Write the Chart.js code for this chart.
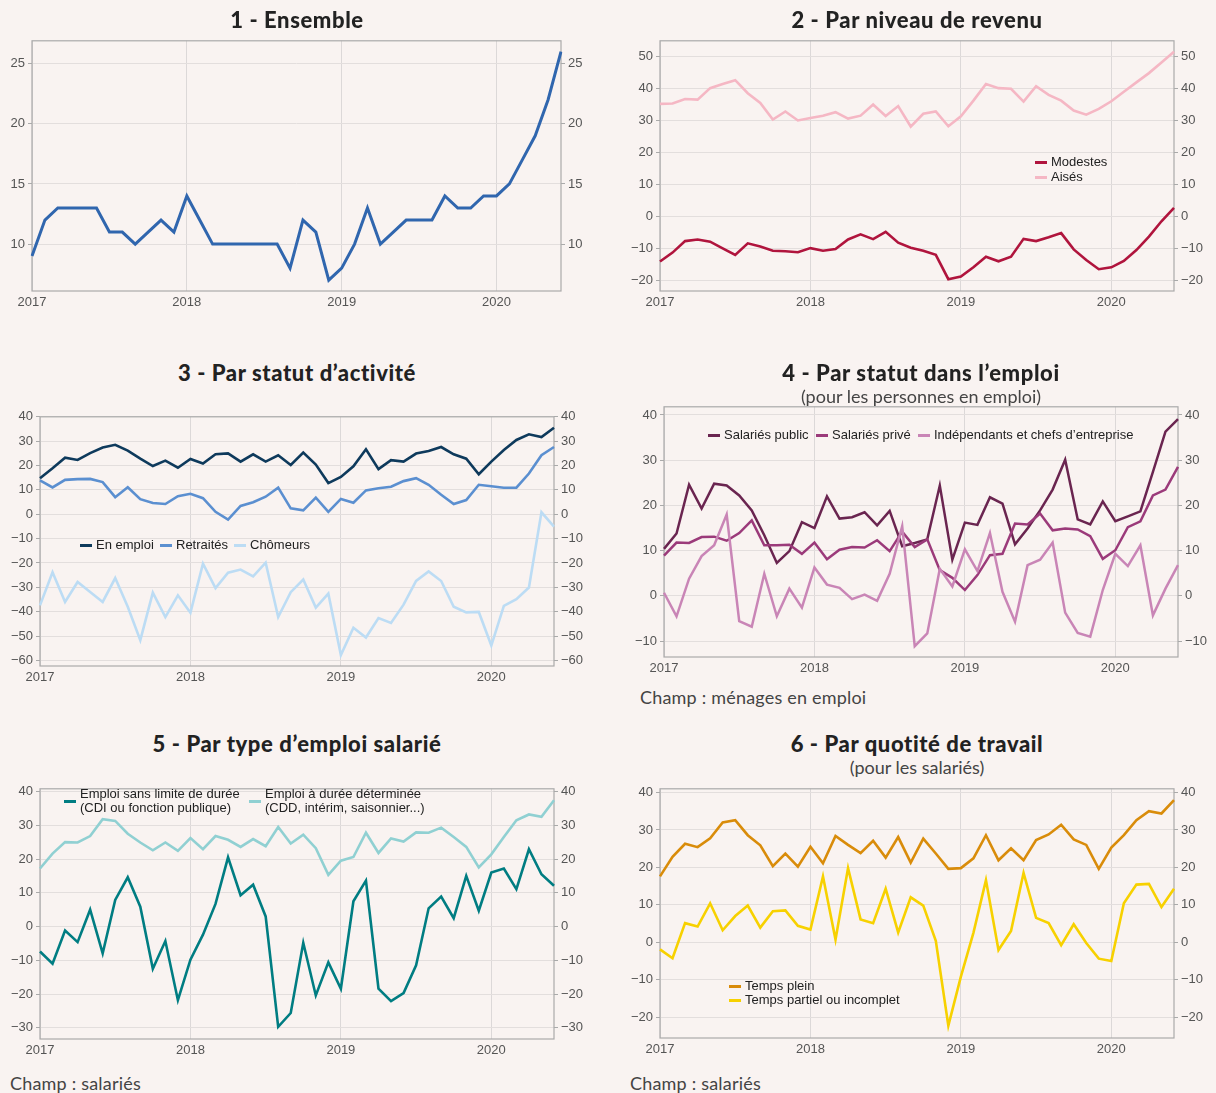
<!DOCTYPE html>
<html lang="fr">
<head>
<meta charset="utf-8">
<script src="https://cdn.jsdelivr.net/npm/chart.js@4.4.1/dist/chart.umd.min.js"></script>
<style>
  html, body { margin:0; padding:0; }
  body { width:1216px; height:1093px; background:#f9f3f1; position:relative; overflow:hidden; font-family:"Liberation Sans", Arial, sans-serif; }
  canvas { position:absolute; }
  .title { position:absolute; width:640px; text-align:center; font-family:Lato, "Open Sans", sans-serif; font-weight:900; font-size:22px; letter-spacing:0.6px; line-height:24px; color:#222; white-space:nowrap; }
  .sub { position:absolute; width:640px; text-align:center; font-family:Lato, "Open Sans", sans-serif; font-size:18px; line-height:20px; color:#444; white-space:nowrap; }
  .note { position:absolute; font-family:Lato, "Open Sans", sans-serif; font-size:18px; letter-spacing:0.2px; line-height:22px; color:#444; white-space:nowrap; }
  .leg { position:absolute; display:flex; align-items:center; font-size:13px; line-height:14px; color:#222; white-space:nowrap; }
  .leg i { display:inline-block; width:12px; height:3px; margin-right:4px; }
</style>
</head>
<body>
<script>
// ---------- data ----------
const months = ['2017-01','2017-02','2017-03','2017-04','2017-05','2017-06','2017-07','2017-08','2017-09','2017-10','2017-11','2017-12',
                '2018-01','2018-02','2018-03','2018-04','2018-05','2018-06','2018-07','2018-08','2018-09','2018-10','2018-11','2018-12',
                '2019-01','2019-02','2019-03','2019-04','2019-05','2019-06','2019-07','2019-08','2019-09','2019-10','2019-11','2019-12',
                '2020-01','2020-02','2020-03','2020-04','2020-05','2020-06'];
const yearLabels = ['2017','2018','2019','2020'];

const ticks1 = [10,15,20,25];
const ticks2 = [-20,-10,0,10,20,30,40,50];
const ticks3 = [-60,-50,-40,-30,-20,-10,0,10,20,30,40];
const ticks4 = [-10,0,10,20,30,40];
const ticks5 = [-30,-20,-10,0,10,20,30,40];
const ticks6 = [-20,-10,0,10,20,30,40];

const ensemble = [9,12,13,13,13,13,11,11,10,11,12,11,14,12,10,10,10,10,10,10,8,12,11,7,8,10,13,10,11,12,12,12,14,13,13,14,14,15,17,19,22,26];

const modestes = [-14.1,-11.3,-7.7,-7.2,-7.9,-10.0,-12.0,-8.4,-9.4,-10.7,-10.9,-11.2,-9.9,-10.7,-10.2,-7.2,-5.6,-7.1,-4.8,-8.2,-9.8,-10.7,-12.0,-19.6,-18.8,-15.9,-12.6,-14.0,-12.6,-7.0,-7.7,-6.5,-5.2,-10.3,-13.6,-16.5,-15.9,-13.9,-10.5,-6.3,-1.5,2.7];
const aises = [35.2,35.3,36.7,36.5,40.1,41.4,42.6,38.5,35.5,30.3,32.8,30.0,30.8,31.5,32.6,30.6,31.5,35.0,31.4,34.5,28.1,32.1,32.8,28.2,31.3,36.2,41.4,40.1,39.9,35.9,40.7,38.0,36.2,33.1,31.8,33.6,36.0,39.0,41.9,44.8,48.1,51.5];

const enEmploi = [14.8,18.9,23.2,22.3,25.1,27.4,28.5,26.1,22.8,19.8,22.0,19.1,22.7,20.8,24.6,25.0,21.6,24.6,21.6,24.2,20.2,25.3,20.4,12.8,15.3,19.7,26.7,18.5,22.2,21.6,24.9,26.0,27.6,24.6,22.8,16.4,21.6,26.4,30.5,32.8,31.7,35.5];
const retraites = [13.9,11.0,14.1,14.4,14.5,13.2,7.0,11.1,6.2,4.6,4.2,7.4,8.4,6.6,1.0,-2.2,3.4,4.9,7.2,10.9,2.4,1.6,6.8,1.0,6.3,4.7,9.8,10.7,11.3,13.6,14.8,12.1,8.0,4.2,5.8,12.1,11.5,10.9,10.9,16.7,24.2,27.6];
const chomeurs = [-37.4,-23.8,-36.0,-27.8,-31.9,-36.0,-26.2,-38.0,-51.7,-32.2,-42.2,-33.3,-40.4,-20.3,-30.3,-24.0,-22.7,-25.5,-19.9,-42.2,-32.0,-26.8,-38.3,-32.6,-57.8,-46.6,-50.6,-42.6,-44.6,-37.1,-27.4,-23.5,-27.4,-38.0,-40.3,-40.1,-53.9,-37.6,-34.9,-30.1,0.8,-5.1];

const salPublic = [10.4,13.8,24.6,19.3,24.8,24.4,22.2,18.9,13.4,7.3,9.9,16.3,15.0,22.0,17.1,17.4,18.5,15.6,18.8,11.0,11.7,12.5,24.4,8.0,16.2,15.7,21.8,20.4,11.4,14.9,18.9,23.5,30.1,16.9,15.8,20.9,16.5,17.6,18.7,27.4,36.3,39.1];
const salPrive = [8.9,11.8,11.7,13.0,13.1,12.2,13.9,16.7,11.2,11.2,11.3,9.3,11.8,8.1,10.2,10.8,10.7,12.3,9.9,14.2,10.8,12.5,5.7,4.0,1.3,4.6,9.0,9.3,16.0,15.8,18.2,14.5,14.9,14.7,13.2,8.2,10.1,15.2,16.5,22.2,23.5,28.5];
const independants = [0.7,-4.5,3.8,8.8,11.2,18.0,-5.6,-6.8,4.9,-4.5,1.6,-2.6,6.3,2.5,1.8,-0.7,0.3,-1.1,4.9,15.4,-11.1,-8.3,6.0,2.1,10.3,5.5,13.9,0.9,-5.7,6.8,8.0,11.8,-3.7,-8.2,-9.0,1.3,9.3,6.6,11.2,-4.3,1.6,6.8];

const cdi = [-7.4,-11.0,-1.2,-4.6,5.0,-7.9,7.9,14.6,5.9,-12.5,-4.3,-21.8,-9.8,-2.4,6.7,20.5,9.3,12.4,3.0,-29.7,-25.6,-4.8,-20.4,-10.6,-18.4,7.5,13.6,-18.4,-22.1,-19.7,-11.5,5.4,8.9,2.5,15.0,4.7,16.0,17.2,11.1,22.9,15.5,12.1];
const cdd = [17.2,21.6,25.0,24.9,26.8,31.8,31.3,27.5,24.9,22.6,24.9,22.4,26.2,22.9,26.8,25.7,23.6,25.9,23.8,29.5,24.6,27.2,23.2,15.3,19.5,20.6,27.8,21.8,26.1,25.2,27.9,27.8,29.3,26.5,23.6,17.5,21.4,26.5,31.5,33.2,32.5,37.4];

const tempsPlein = [17.6,22.8,26.3,25.4,27.8,32.0,32.6,28.6,25.9,20.3,23.7,20.2,25.5,21.1,28.4,26.0,23.8,27.1,22.6,28.1,21.3,27.7,23.7,19.6,19.8,22.4,28.6,21.9,25.1,21.9,27.3,28.8,31.4,27.5,26.0,19.6,25.3,28.6,32.6,35.0,34.4,38.0];
const tempsPartiel = [-1.9,-4.3,5.1,4.2,10.4,3.2,7.0,9.8,3.9,8.3,8.5,4.4,3.4,17.6,0.7,19.8,6.1,5.1,14.3,2.6,12.0,9.8,0.4,-22.3,-9.2,2.5,16.6,-2.1,3.0,18.5,6.5,5.1,-0.8,4.8,-0.2,-4.4,-5.0,10.4,15.4,15.6,9.4,14.3];

// ---------- layout ----------
const panels = [
  {L:32, T:40, R:561, B:291, min:6.1, max:26.9, ticks:ticks1,
   series:[{label:'Ensemble', data:ensemble, color:'#3066ae', w:3}]},
  {L:660, T:40, R:1174, B:291, min:-23.3, max:54.9, ticks:ticks2,
   series:[{label:'Aisés', data:aises, color:'#f5b7c4', w:2.6},{label:'Modestes', data:modestes, color:'#b0143d', w:2.6}]},
  {L:40, T:416, R:554, B:666, min:-62.3, max:40, ticks:ticks3,
   series:[{label:'Chômeurs', data:chomeurs, color:'#bcdcf4', w:2.6},{label:'Retraités', data:retraites, color:'#5b8fd0', w:2.6},{label:'En emploi', data:enEmploi, color:'#0e3a5c', w:2.6}]},
  {L:664, T:406, R:1178, B:657, min:-13.5, max:41.8, ticks:ticks4,
   series:[{label:'Indépendants et chefs d’entreprise', data:independants, color:'#c985b6', w:2.5},{label:'Salariés privé', data:salPrive, color:'#9b3a7a', w:2.5},{label:'Salariés public', data:salPublic, color:'#6a2550', w:2.5}]},
  {L:40, T:788, R:554, B:1039, min:-33.3, max:40.8, ticks:ticks5,
   series:[{label:'CDD', data:cdd, color:'#90d0d2', w:2.6},{label:'CDI', data:cdi, color:'#007d82', w:2.6}]},
  {L:660, T:788, R:1174, B:1038, min:-25.6, max:41, ticks:ticks6,
   series:[{label:'Temps partiel ou incomplet', data:tempsPartiel, color:'#f7d100', w:2.6},{label:'Temps plein', data:tempsPlein, color:'#d98c0a', w:2.6}]}
];

const LW = 32, RW = 40, XH = 22, PT = 10;
const tickFont = {family:'"Liberation Sans", Arial, sans-serif', size:13};
const fmt = v => v < 0 ? '\u2212' + Math.abs(v) : String(v);

const frame = {
  id:'frame',
  beforeDatasetsDraw(chart){
    const a = chart.chartArea, c = chart.ctx;
    c.save(); c.strokeStyle = '#aaaaaa'; c.lineWidth = 1.2;
    c.strokeRect(a.left, a.top, a.right - a.left, a.bottom - a.top);
    c.restore();
  }
};

panels.forEach(p => {
  const cv = document.createElement('canvas');
  const w = p.R - p.L + LW + RW, h = p.B - p.T + PT + XH;
  cv.width = w; cv.height = h;
  cv.style.left = (p.L - LW) + 'px'; cv.style.top = (p.T - PT) + 'px';
  cv.style.width = w + 'px'; cv.style.height = h + 'px';
  document.body.appendChild(cv);
  const setTicks = s => { s.ticks = p.ticks.map(v => ({value:v})); };
  const yTicks = {color:'#555', font:tickFont, padding:3, callback:fmt};
  new Chart(cv, {
    type:'line',
    data:{labels:months, datasets:p.series.map(s => ({label:s.label, data:s.data, borderColor:s.color, backgroundColor:s.color, borderWidth:s.w, pointRadius:0, tension:0, fill:false}))},
    options:{
      responsive:false, animation:false, devicePixelRatio:1,
      layout:{padding:{top:PT, left:0, right:0, bottom:0}},
      plugins:{legend:{display:false}, tooltip:{enabled:false}},
      scales:{
        x:{type:'category', offset:false,
           afterBuildTicks(s){ s.ticks = s.ticks.filter(t => months[t.value].endsWith('-01')); },
           afterFit(s){ s.height = XH; },
           ticks:{autoSkip:false, maxRotation:0, color:'#555', font:tickFont, padding:4,
                  callback(v){ return yearLabels[yearLabels.indexOf(months[v].slice(0,4))]; }},
           grid:{color:'#dcd8d8', drawTicks:false}, border:{display:false}},
        y:{position:'left', bounds:'data', min:p.min, max:p.max,
           afterBuildTicks:setTicks,
           afterFit(s){ s.width = LW; },
           ticks:yTicks, grid:{color:'#e3dedd', tickLength:4, tickColor:'#aaaaaa'}, border:{display:false}},
        y2:{position:'right', bounds:'data', min:p.min, max:p.max,
           afterBuildTicks:setTicks,
           afterFit(s){ s.width = RW; },
           ticks:yTicks, grid:{drawOnChartArea:false, tickLength:4, tickColor:'#aaaaaa'}, border:{display:false}}
      }
    },
    plugins:[frame]
  });
});

// ---------- texts ----------
function addDiv(cls, html, left, top){
  const d = document.createElement('div'); d.className = cls; d.innerHTML = html;
  d.style.left = left + 'px'; d.style.top = top + 'px'; document.body.appendChild(d); return d;
}
function title(text, cx, cy){ addDiv('title', text, cx - 320, cy - 12); }
function sub(text, cx, cy){ addDiv('sub', text, cx - 320, cy - 10); }
function note(text, x, cy){ addDiv('note', text, x, cy - 11); }
function leg(text, color, x, cy, lines){ addDiv('leg', '<i style="background:' + color + '"></i><span>' + text + '</span>', x, cy - (lines === 2 ? 14 : 7)); }

title('1 - Ensemble', 297, 20);
title('2 - Par niveau de revenu', 917, 20);
title('3 - Par statut d’activité', 297, 373);
title('4 - Par statut dans l’emploi', 921, 373);
sub('(pour les personnes en emploi)', 921, 396);
title('5 - Par type d’emploi salarié', 297, 744);
title('6 - Par quotité de travail', 917, 744);
sub('(pour les salariés)', 917, 767);
note('Champ : ménages en emploi', 640, 697);
note('Champ : salariés', 10, 1083);
note('Champ : salariés', 630, 1083);

leg('Modestes', '#b0143d', 1035, 162);
leg('Aisés', '#f5b7c4', 1035, 177);
leg('En emploi', '#0e3a5c', 80, 545);
leg('Retraités', '#5b8fd0', 160, 545);
leg('Chômeurs', '#bcdcf4', 234, 545);
leg('Salariés public', '#6a2550', 708, 435);
leg('Salariés privé', '#9b3a7a', 816, 435);
leg('Indépendants et chefs d’entreprise', '#c985b6', 918, 435);
leg('Emploi sans limite de durée<br>(CDI ou fonction publique)', '#007d82', 64, 801, 2);
leg('Emploi à durée déterminée<br>(CDD, intérim, saisonnier...)', '#90d0d2', 249, 801, 2);
leg('Temps plein', '#d98c0a', 729, 986);
leg('Temps partiel ou incomplet', '#f7d100', 729, 1000);
</script>
</body>
</html>
